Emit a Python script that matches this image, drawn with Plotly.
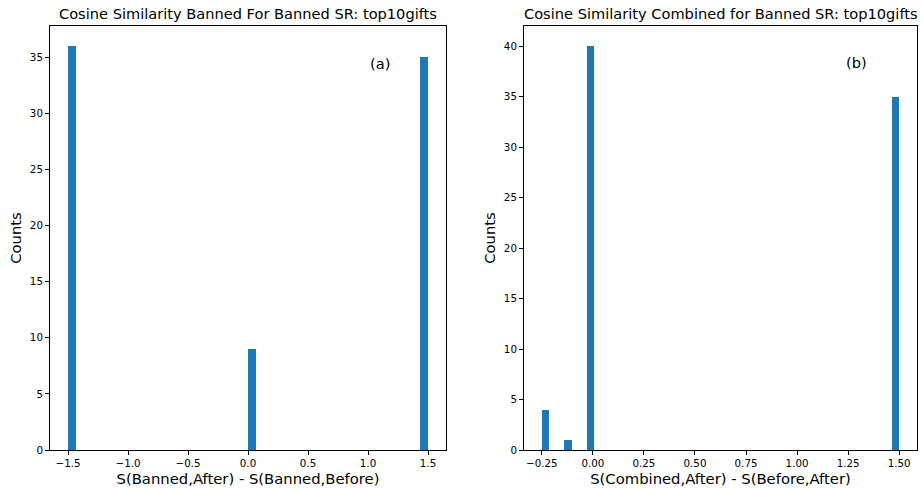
import plotly.graph_objects as go

# Panel (a) histogram
a_centers = [-1.4667, 0.0333, 1.4667]
a_counts = [36, 9, 35]
a_width = 0.0667
a_ticks = [-1.5, -1.0, -0.5, 0.0, 0.5, 1.0, 1.5]
a_ticktext = ["\u22121.5", "\u22121.0", "\u22120.5", "0.0", "0.5", "1.0", "1.5"]
a_yticks = [0, 5, 10, 15, 20, 25, 30, 35]

# Panel (b) histogram
b_centers = [-0.2318, -0.1224, -0.0130, 1.4818]
b_counts = [4, 1, 40, 35]
b_width = 0.0365
b_ticks = [-0.25, 0.0, 0.25, 0.5, 0.75, 1.0, 1.25, 1.5]
b_ticktext = ["\u22120.25", "0.00", "0.25", "0.50", "0.75", "1.00", "1.25", "1.50"]
b_yticks = [0, 5, 10, 15, 20, 25, 30, 35, 40]

titles = ["Cosine Similarity Banned For Banned SR: top10gifts",
          "Cosine Similarity Combined for Banned SR: top10gifts"]
xlabels = ["S(Banned,After) - S(Banned,Before)", "S(Combined,After) - S(Before,After)"]

W, H = 923, 489
FONT = "DejaVu Sans"
BLUE = "#1f77b4"

fig = go.Figure()
fig.add_trace(go.Bar(x=a_centers, y=a_counts, width=[a_width] * len(a_centers),
                     marker=dict(color=BLUE, line=dict(width=0)), xaxis="x", yaxis="y",
                     showlegend=False))
fig.add_trace(go.Bar(x=b_centers, y=b_counts, width=[b_width] * len(b_centers),
                     marker=dict(color=BLUE, line=dict(width=0)), xaxis="x2", yaxis="y2",
                     showlegend=False))

ydom = [(H - 450) / H, (H - 26) / H]
axcommon = dict(showline=True, linecolor="black", linewidth=1, mirror=True,
                ticks="outside", ticklen=4, tickwidth=1, tickcolor="black",
                showgrid=False, zeroline=False, automargin=False,
                tickfont=dict(family=FONT, size=10.3, color="black"))

a_min, a_max = -1.5, 1.5
b_min, b_max = -0.25, 1.5
a_pad = 0.05 * (a_max - a_min)
b_pad = 0.05 * (b_max - b_min)

LBL = 14.8
fig.update_layout(
    width=W, height=H,
    margin=dict(l=0, r=0, t=0, b=0, autoexpand=False),
    paper_bgcolor="white", plot_bgcolor="white",
    bargap=0,
    font=dict(family=FONT, color="black"),
    xaxis=dict(domain=[50 / W, 446 / W], range=[a_min - a_pad, a_max + a_pad],
               tickvals=a_ticks, ticktext=a_ticktext, anchor="y",
               title=dict(text=xlabels[0], font=dict(size=LBL), standoff=5), **axcommon),
    yaxis=dict(domain=ydom, range=[0, max(a_counts) * 1.05], tickvals=a_yticks, anchor="x",
               title=dict(text="Counts", font=dict(size=LBL), standoff=4), **axcommon),
    xaxis2=dict(domain=[524 / W, 917 / W], range=[b_min - b_pad, b_max + b_pad],
                tickvals=b_ticks, ticktext=b_ticktext, anchor="y2",
                title=dict(text=xlabels[1], font=dict(size=LBL), standoff=5), **axcommon),
    yaxis2=dict(domain=ydom, range=[0, max(b_counts) * 1.05], tickvals=b_yticks, anchor="x2",
                title=dict(text="Counts", font=dict(size=LBL), standoff=4), **axcommon),
)

fig.add_annotation(text=titles[0], xref="paper", yref="paper",
                   x=(50 + 446) / 2 / W, y=(H - 14) / H, xanchor="center", yanchor="middle",
                   showarrow=False, font=dict(family=FONT, size=14.6, color="black"))
fig.add_annotation(text=titles[1], xref="paper", yref="paper",
                   x=(524 + 917) / 2 / W, y=(H - 14) / H, xanchor="center", yanchor="middle",
                   showarrow=False, font=dict(family=FONT, size=14.6, color="black"))
fig.add_annotation(text="(a)", xref="x", yref="y", x=1.0, y=34.5, xanchor="left",
                   yanchor="middle", showarrow=False, font=dict(family=FONT, size=14.6, color="black"))
fig.add_annotation(text="(b)", xref="x2", yref="y2", x=1.23, y=38.4, xanchor="left",
                   yanchor="middle", showarrow=False, font=dict(family=FONT, size=14.6, color="black"))

fig.write_html("out.html")
